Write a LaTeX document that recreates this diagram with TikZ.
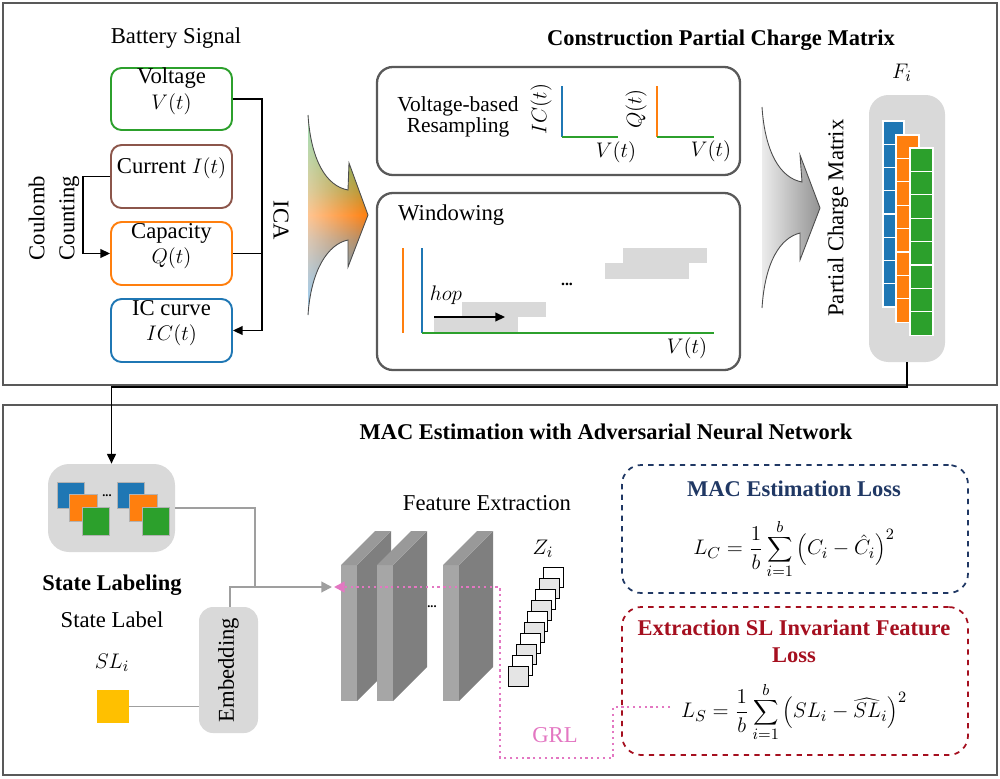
\documentclass[tikz,border=0pt]{standalone}
\usepackage{fontspec}
\setmainfont{Liberation Serif}
\usetikzlibrary{arrows.meta,fit,fadings}
\definecolor{tblue}{HTML}{1F77B4}
\definecolor{tgreen}{HTML}{2CA02C}
\definecolor{torange}{HTML}{FF7F0E}
\definecolor{tbrown}{HTML}{8C564B}
\definecolor{tpink}{HTML}{E377C2}
\definecolor{frm}{HTML}{595959}
\definecolor{lgray}{HTML}{D9D9D9}
\definecolor{navy}{HTML}{203864}
\definecolor{dred}{HTML}{A50F1F}
\definecolor{ylw}{HTML}{FFC000}
\definecolor{slabfront}{HTML}{A6A6A6}
\definecolor{slabside}{HTML}{7F7F7F}
\definecolor{slabtop}{HTML}{999999}
\definecolor{agreen}{HTML}{4CAF50}
\definecolor{ablue}{HTML}{3A8CC8}
\pgfdeclareverticalshading{icashade}{100bp}{color(0bp)=(ablue); color(30bp)=(ablue); color(44bp)=(ablue!40!torange); color(50bp)=(torange); color(56bp)=(agreen!40!torange); color(70bp)=(agreen); color(100bp)=(agreen)}
\tikzfading[name=fadew, left color=transparent!45, right color=transparent!100]
\newcommand{\fsn}{\fontsize{12.9}{14.5}\selectfont}
\newcommand{\fsb}{\fontsize{12.8}{15}\selectfont\bfseries}
\begin{document}
\begin{tikzpicture}[x=0.02cm,y=-0.02cm,
  every node/.style={font=\fsn},
  panel/.style={draw=frm, line width=1.4pt, inner sep=0pt},
  sig/.style={draw, line width=1.1pt, rounded corners=6pt, inner sep=0pt, align=center},
  procbox/.style={draw=frm, line width=1.3pt, rounded corners=9pt, inner sep=0pt},
  graybox/.style={fill=lgray, inner sep=0pt},
  lossbox/.style={dashed, line width=1pt, rounded corners=11pt, inner sep=0pt},
  formula/.style={inner sep=0pt},
  conn/.style={draw=black, line width=0.85pt},
  gconn/.style={draw=gray!75, line width=1.1pt},
  arr/.style={-{Triangle[length=5.5pt,width=5pt]}},
  cell/.style={draw=white, line width=0.6pt},
  sq/.style={draw=gray!60, line width=0.5pt}]
\useasboundingbox (0,0) rectangle (1000,778);
% panels
\node[panel, fit={(3,3)(997,385)}] (toppanel) {};
\node[panel, fit={(3,405)(997,775)}] (botpanel) {};

% ---------- battery signal ----------
\node (bsig) at (176,38) {Battery Signal};
\node[sig, draw=tgreen, fit={(111,68)(232,130)}] (volt) {Voltage\\$V(t)$};
\node[sig, draw=tbrown, fit={(111,145)(232,208)}] (cur) {Current $I(t)$};
\node[sig, draw=torange, fit={(111,222)(232,285)}] (cap) {Capacity\\$Q(t)$};
\node[sig, draw=tblue, fit={(111,299)(232,362)}] (icc) {IC curve\\$IC(t)$};
\coordinate (ccx) at (83,0);
\coordinate (icax) at (262,0);
\draw[conn, arr] (cur.west) -- (cur.west -| ccx) |- (cap.west);
\draw[conn, arr] (volt.east) -- (volt.east -| icax) |- (icc.east);
\draw[conn] (cap.east) -- (cap.east -| icax);
\node[rotate=90, align=center, font=\fontsize{12.9}{17}\selectfont] (coul) at (54,218) {Coulomb\\Counting};
\node[rotate=-90] (ica) at (281,220) {ICA};

% colored arrow
\def\colarrow{(308,115) .. controls (311,160) and (326,186) .. (348,190) -- (349,163) -- (368,215) -- (348,267) -- (348,240) .. controls (328,244) and (311,270) .. (308,315) -- cycle}
\shade[shading=icashade] \colarrow;
\fill[white, path fading=fadew] \colarrow;
\draw[line width=0.5pt, black!70] (308,115) .. controls (311,160) and (326,186) .. (348,190) -- (349,163) -- (368,215) -- (348,267) -- (348,240) .. controls (328,244) and (311,270) .. (308,315);

% ---------- construction ----------
\node[font=\fsb] (cpcm) at (721,40) {Construction Partial Charge Matrix};
\node[procbox, fit={(377,67)(740,175)}] (resamp) {};
\node[align=center, font=\fontsize{12.2}{11}\selectfont] (vbr) at (458,117) {Voltage-based\\Resampling};
\draw[tblue, line width=1.3pt] (562,86) -- (562,137);
\draw[tgreen, line width=1.3pt] (562,137) -- (618,137);
\node[rotate=90, inner sep=1pt] (icl) at (541,109) {$IC(t)$};
\node (vl1) at (616,152) {$V(t)$};
\draw[torange, line width=1.3pt] (657,86) -- (657,137);
\draw[tgreen, line width=1.3pt] (657,137) -- (714,137);
\node[rotate=90, inner sep=1pt] (ql) at (636,109) {$Q(t)$};
\node (vl2) at (711,151) {$V(t)$};

\node[procbox, fit={(377,193)(740,370)}] (wind) {};
\node[anchor=west] (wtxt) at (392,215) {Windowing};
\fill[lgray] (434,317) rectangle (518,332);
\fill[lgray] (462,302) rectangle (546,317);
\fill[lgray] (605,263) rectangle (689,279);
\fill[lgray] (623,248) rectangle (707,263);
\draw[torange, line width=1.3pt] (403,248) -- (403,333);
\draw[tblue, line width=1.3pt] (422,248) -- (422,333);
\draw[tgreen, line width=1.3pt] (422,333) -- (714,333);
\node (vl3) at (687,348) {$V(t)$};
\node (hop) at (446,295) {$hop$};
\coordinate (hopa) at (434,317);
\coordinate (hopb) at (505,317);
\draw[conn, arr] (hopa) -- (hopb);
\node[font=\bfseries\small] (wdots) at (567,284) {...};

% gray arrow
\def\grayarrow{(762,107) .. controls (765,152) and (780,178) .. (802,182) -- (800,155) -- (820,208) -- (800,260) -- (800,233) .. controls (780,238) and (765,262) .. (762,308) -- cycle}
\shade[left color=gray!15, right color=gray!85] \grayarrow;
\draw[line width=0.5pt, black!70] (762,107) .. controls (765,152) and (780,178) .. (802,182) -- (800,155) -- (820,208) -- (800,260) -- (800,233) .. controls (780,238) and (765,262) .. (762,308);

\node[rotate=90] (pcm) at (838,218) {Partial Charge Matrix};
\node (fi) at (902,73) {$F_i$};
\node[graybox, rounded corners=11pt, fit={(869,95)(945,362)}] (fmat) {};
\foreach \k in {0,...,7}{
  \fill[tblue, cell] (883,121+\k*23.25) rectangle ++(21,23.25);}
\foreach \k in {0,...,7}{
  \fill[torange, cell] (896,135+\k*23.4) rectangle ++(23,23.4);}
\foreach \k in {0,...,7}{
  \fill[tgreen, cell] (910,148+\k*23.4) rectangle ++(23,23.4);}

% ---------- MAC estimation ----------
\node[font=\fsb] (mact) at (606,432) {MAC Estimation with Adversarial Neural Network};
\node[graybox, rounded corners=12pt, fit={(48,464)(175,552)}] (state) {};
\coordinate (turn) at (907,387);
\draw[conn, arr] (fmat.south) -- (turn) -| (state.north);
\foreach \dx in {0,60}{
  \fill[tblue, sq] (57+\dx,482) rectangle (84+\dx,508);
  \fill[torange, sq] (69+\dx,494) rectangle (97+\dx,521);
  \fill[tgreen, sq] (82+\dx,507) rectangle (109+\dx,535);}
\node[font=\bfseries\scriptsize] (sdots) at (107,496) {...};
\node[font=\fsb] (stl) at (112,585) {State Labeling};
\node (stlab) at (112,620) {State Label};
\node (sli) at (112,663) {$SL_i$};
\node[fill=ylw, inner sep=0pt, fit={(97,690)(129,723)}] (ysq) {};
\node[graybox, rounded corners=8pt, fit={(199,607)(258,733)}] (emb) {};
\node[rotate=90] (embt) at (emb.center) {Embedding};
\draw[gconn] (ysq.east) -- (ysq.east -| emb.west);
\coordinate (jn) at (255,587);
\coordinate (gin) at (332,587);
\draw[gconn] (state.east) -- (state.east -| jn) -- (jn);
\draw[gconn, -{Triangle[length=6pt,width=6pt]}] (emb.north -| 230,0) -- (230,587) -- (gin);

\node (fext) at (487,503) {Feature Extraction};
\foreach \x in {341,377,443}{
  \fill[slabfront] (\x,565) rectangle (\x+16,701);
  \fill[slabside] (\x+16,565) -- (\x+50,531) -- (\x+50,667) -- (\x+16,701) -- cycle;
  \fill[slabtop] (\x,565) -- (\x+34,531) -- (\x+50,531) -- (\x+16,565) -- cycle;}
\node[font=\bfseries\scriptsize] (fdots) at (432,607) {...};
\node (zi) at (543,549) {$Z_i$};
\foreach \k in {0,...,9}{
  \pgfmathsetmacro{\zx}{543-3.8*\k}
  \pgfmathsetmacro{\zy}{567+11.1*\k}
  \pgfmathparse{mod(\k,2)==0 ? "white" : "black!10"}
  \edef\zf{\pgfmathresult}
  \filldraw[fill=\zf, draw=black, line width=0.5pt] (\zx,\zy) rectangle ++(20,20);}

% loss boxes
\node[lossbox, draw=navy, fit={(622,465)(968,593)}] (macbox) {};
\node[font=\fsb, text=navy, inner sep=1pt] (mact2) at (794,489) {MAC Estimation Loss};
\node[formula] (lcf) at (794,549) {$\displaystyle L_C=\frac{1}{b}\sum_{i=1}^{b}\left(C_i-\hat{C}_i\right)^2$};
\node[lossbox, draw=dred, fit={(622,607)(968,755)}] (slbox) {};
\node[font=\fontsize{12.8}{15.5}\selectfont\bfseries, text=dred, align=center, inner sep=1pt] (slt) at (794,641) {Extraction SL Invariant Feature\\Loss};
\node[formula] (lsf) at (794,712) {$\displaystyle L_S=\frac{1}{b}\sum_{i=1}^{b}\left(SL_i-\widehat{SL}_i\right)^2$};

% GRL
\coordinate (grlend) at (670,707);
\coordinate (pin) at (334,587);
\draw[tpink, dotted, line width=1.3pt, -{Triangle[length=6pt,width=6pt]}] (grlend) -- (613,707) -- (613,758) -- (500,758) -- (500,587) -- (pin);
\node[text=tpink] (grl) at (555,735) {GRL};
\end{tikzpicture}
\end{document}
